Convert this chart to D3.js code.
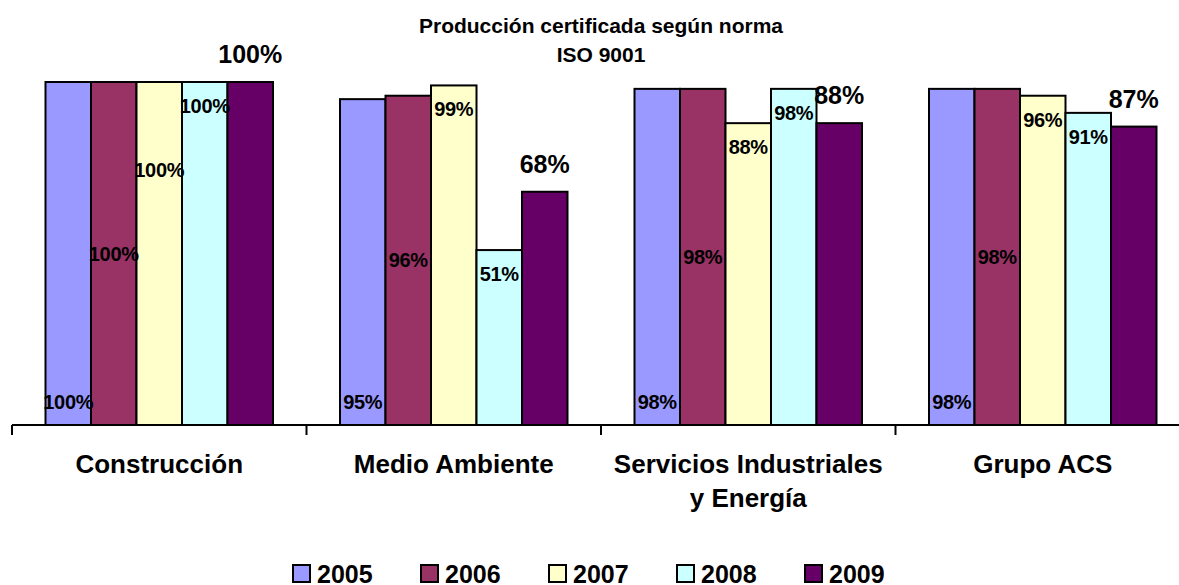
<!DOCTYPE html>
<html>
<head>
<meta charset="utf-8">
<script src="https://cdn.jsdelivr.net/npm/d3@7"></script>
<style>
  body { margin: 0; background: #fff; }
  svg { display: block; font-family: Arial, "Liberation Sans", sans-serif; font-weight: bold; }
</style>
</head>
<body>
<script>
// chart data
const categories = ["Construcción", "Medio Ambiente", "Servicios Industriales|y Energía", "Grupo ACS"];
const years = ["2005", "2006", "2007", "2008", "2009"];
const v2005 = [100, 95, 98, 98];
const v2006 = [100, 96, 98, 98];
const v2007 = [100, 99, 88, 96];
const v2008 = [100, 51, 98, 91];
const v2009 = [100, 68, 88, 87];
const colors = ["#9999FF", "#993366", "#FFFFCC", "#CCFFFF", "#660066"];
const titleLines = ["Producción certificada según norma", "ISO 9001"];

const series = [v2005, v2006, v2007, v2008, v2009];
const data = categories.map((c, i) => ({
  name: c,
  values: years.map((y, j) => ({year: y, value: series[j][i]}))
}));

const W = 1179, H = 585;
const svg = d3.select("body").append("svg")
    .attr("width", W)
    .attr("height", H);

// scales
const x0 = d3.scaleBand().domain(categories).range([12, 1190]);
const x1 = d3.scaleBand().domain(years).range([33.5, x0.bandwidth() - 33.5]);
const y = d3.scaleLinear().domain([0, 100]).range([425, 82]);
const color = d3.scaleOrdinal().domain(years).range(colors);

// title
svg.append("g").selectAll("text").data(titleLines)
  .enter().append("text")
    .attr("x", 601)
    .attr("y", (d, i) => 33 + i * 29)
    .attr("text-anchor", "middle")
    .style("font-size", "21px")
    .text(d => d);

// bar groups
const gCat = svg.append("g").selectAll(".cat").data(data)
  .enter().append("g")
    .attr("class", "cat")
    .attr("transform", d => `translate(${x0(d.name)},0)`);

gCat.selectAll("rect").data(d => d.values)
  .enter().append("rect")
    .attr("x", d => x1(d.year))
    .attr("y", d => y(d.value))
    .attr("width", x1.bandwidth())
    .attr("height", d => y(0) - y(d.value))
    .attr("fill", d => color(d.year))
    .attr("stroke", "#000")
    .attr("stroke-width", 2);

// data labels, placed the way the original spreadsheet put them
const nudge = {"Construcción|2007": 64};
function labelY(d, cat) {
  const top = y(d.value), base = y(0);
  let ly;
  if (d.year === "2005") ly = base - 16;
  else if (d.year === "2006") ly = (top + base) / 2 + 7;
  else if (d.year === "2009") ly = top - 19;
  else ly = top + 31;
  return ly + (nudge[cat + "|" + d.year] || 0);
}

gCat.each(function(c) {
  d3.select(this).selectAll(".lbl").data(c.values)
    .enter().append("text")
      .attr("class", "lbl")
      .attr("x", d => x1(d.year) + x1.bandwidth() / 2)
      .attr("y", d => labelY(d, c.name))
      .attr("text-anchor", "middle")
      .style("font-size", d => d.year === "2009" ? "25px" : "20px")
      .style("letter-spacing", d => d.year === "2009" ? "0px" : "-0.3px")
      .text(d => d.value + "%");
});

// x axis
const axis = svg.append("g").attr("class", "axis");
axis.append("line")
    .attr("x1", x0.range()[0]).attr("x2", x0.range()[1])
    .attr("y1", y(0)).attr("y2", y(0))
    .attr("stroke", "#000").attr("stroke-width", 2);
axis.selectAll(".tick").data(categories.map(c => x0(c)).concat([x0.range()[1]]))
  .enter().append("line")
    .attr("x1", d => d).attr("x2", d => d)
    .attr("y1", y(0)).attr("y2", y(0) + 10)
    .attr("stroke", "#000").attr("stroke-width", 2);

axis.selectAll(".catlbl").data(categories)
  .enter().append("text")
    .attr("class", "catlbl")
    .attr("text-anchor", "middle")
    .style("font-size", "26px")
    .each(function(c) {
      const t = d3.select(this);
      c.split("|").forEach((line, i) => {
        t.append("tspan")
          .attr("x", x0(c) + x0.bandwidth() / 2)
          .attr("y", 473 + i * 34)
          .text(line);
      });
    });

// legend
const leg = svg.append("g").selectAll(".leg").data(years)
  .enter().append("g")
    .attr("class", "leg")
    .attr("transform", (d, i) => `translate(${293 + i * 128},565)`);
leg.append("rect")
    .attr("width", 17).attr("height", 17)
    .attr("fill", d => color(d))
    .attr("stroke", "#000").attr("stroke-width", 2);
leg.append("text")
    .attr("x", 24).attr("y", 18)
    .style("font-size", "25px")
    .text(d => d);
</script>
</body>
</html>
